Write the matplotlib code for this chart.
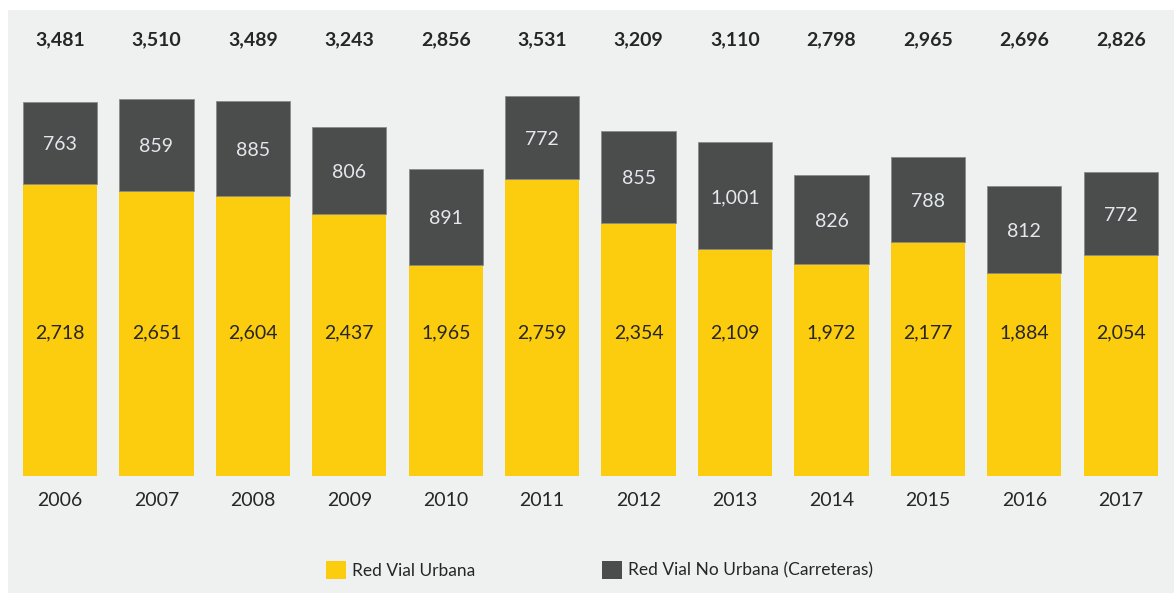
import matplotlib
matplotlib.use("Agg")
import matplotlib.pyplot as plt
from matplotlib.patches import Patch, Rectangle

years = ["2006", "2007", "2008", "2009", "2010", "2011", "2012", "2013", "2014", "2015", "2016", "2017"]
urbana = [2718, 2651, 2604, 2437, 1965, 2759, 2354, 2109, 1972, 2177, 1884, 2054]
no_urbana = [763, 859, 885, 806, 891, 772, 855, 1001, 826, 788, 812, 772]
totals = [3481, 3510, 3489, 3243, 2856, 3531, 3209, 3110, 2798, 2965, 2696, 2826]

YELLOW = "#fccc0e"
DARK = "#4a4d4c"
BG = "#eff0f0"
TXT = "#262626"

plt.rcParams["font.family"] = ["Lato", "DejaVu Sans"]

W, H = 1174, 593
fig = plt.figure(figsize=(W / 100, H / 100), dpi=100, facecolor="white")
fig.patches.append(Rectangle((8 / W, 0), 1 - 8 / W, 1 - 10 / H, transform=fig.transFigure,
                             facecolor=BG, edgecolor="none", zorder=-5))

scale = 0.1075  # px per unit
y0 = 476
ymax = 4000
top_px = y0 - ymax * scale
ax = fig.add_axes([11.8 / W, (H - y0) / H, (1169 - 11.8) / W, (y0 - top_px) / H])
ax.set_facecolor("none")
ax.set_zorder(2)
x = list(range(len(years)))
bw = 0.77
ax.bar(x, urbana, width=bw, color=YELLOW, edgecolor="none", zorder=2)
ax.bar(x, no_urbana, bottom=urbana, width=bw, color=DARK, edgecolor="#8a8c8c", linewidth=0.6, zorder=2)
ax.set_xlim(-0.5, len(years) - 0.5)
ax.set_ylim(0, ymax)
ax.axis("off")

fs = 14
label_y_yellow = (y0 - 333) / scale
total_y = (y0 - 40) / scale
year_y = (y0 - 501) / scale
for i in x:
    ax.text(i, label_y_yellow, f"{urbana[i]:,}", ha="center", va="center", fontsize=fs, color=TXT, zorder=3)
    ax.text(i, urbana[i] + no_urbana[i] / 2 - 2 / scale, f"{no_urbana[i]:,}", ha="center", va="center",
            fontsize=fs, color="#e4e8ec", zorder=3)
    ax.text(i, total_y, f"{totals[i]:,}", ha="center", va="center", fontsize=fs, fontweight="bold",
            color=TXT, clip_on=False)
    ax.text(i, year_y, years[i], ha="center", va="center", fontsize=fs, color=TXT, clip_on=False)

handles = [Patch(facecolor=YELLOW, edgecolor="none", label="Red Vial Urbana"),
           Patch(facecolor=DARK, edgecolor="none", label="Red Vial No Urbana (Carreteras)")]
fs_leg = 12.5
fig.legend(handles=handles, loc="center left", bbox_to_anchor=(310 / W, 1 - 570 / H), ncol=2,
           frameon=False, handlelength=1.2, handleheight=1.25, handletextpad=0.3,
           columnspacing=7.3, prop={"size": fs_leg}, labelcolor=TXT)

fig.savefig("out.png", dpi=100, facecolor="white")
